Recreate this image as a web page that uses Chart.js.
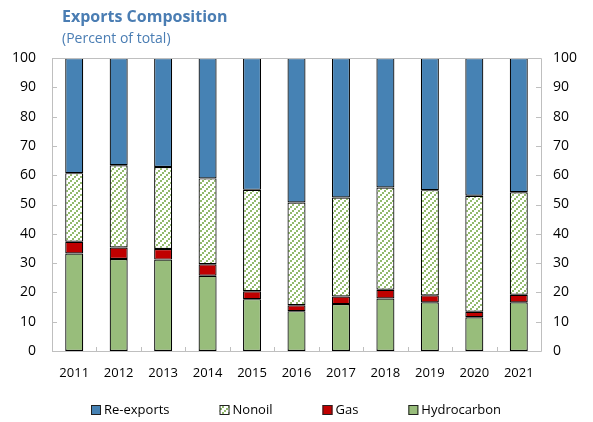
<!DOCTYPE html>
<html lang="en">
<head>
    <meta charset="UTF-8">
    <title>Exports Composition</title>
    <script src="https://cdn.jsdelivr.net/npm/chart.js"></script>
    <style>
        body {
            margin: 0;
            background: #fff;
            overflow: hidden;
        }

        .chart-box {
            position: relative;
            width: 593px;
            height: 422px;
        }

        .titulo {
            position: absolute;
            left: 62px;
            top: 5px;
            font-family: "Open Sans", "Noto Sans", sans-serif;
            font-weight: bold;
            font-size: 16px;
            color: #4a7db3;
        }

        .subtitulo {
            position: absolute;
            left: 62px;
            top: 28px;
            font-family: "Open Sans", "Noto Sans", sans-serif;
            font-size: 14px;
            color: #4a7db3;
        }
    </style>
</head>
<body>
    <div class="chart-box">
        <div class="titulo">Exports Composition</div>
        <div class="subtitulo">(Percent of total)</div>
        <canvas id="exportsChart"></canvas>
    </div>

    <script>
        // Dados (percentual do total)
        const anos = ['2011', '2012', '2013', '2014', '2015', '2016', '2017', '2018', '2019', '2020', '2021'];
        const hydrocarbon = [33.3, 31.4, 31.2, 25.7, 17.7, 13.6, 16.0, 17.9, 16.6, 11.5, 16.6];
        const gas = [4.0, 3.9, 3.6, 3.9, 2.7, 2.0, 2.6, 3.0, 2.4, 1.9, 2.6];
        const nonoil = [23.4, 28.1, 28.0, 29.3, 34.6, 35.1, 33.8, 34.9, 35.9, 39.6, 35.0];
        const reexports = [39.3, 36.6, 37.2, 41.1, 45.0, 49.3, 47.6, 44.2, 45.1, 47.0, 45.8];
        const yTicks = [0, 10, 20, 30, 40, 50, 60, 70, 80, 90, 100];

        const fonte = '"Open Sans", "Noto Sans", sans-serif';

        // Padrão hachurado (diagonal tracejada) para Nonoil
        function criarHachura() {
            const c = document.createElement('canvas');
            c.width = 6;
            c.height = 6;
            const g = c.getContext('2d');
            g.fillStyle = '#ffffff';
            g.fillRect(0, 0, 6, 6);
            g.fillStyle = '#92ba6d';
            g.fillRect(0, 4, 2, 2);
            g.fillRect(2, 2, 2, 2);
            g.fillRect(4, 0, 2, 2);
            return g.createPattern(c, 'repeat');
        }

        // Moldura e marcas de escala para dentro
        const moldura = {
            id: 'moldura',
            afterDatasetsDraw(chart) {
                const ctx = chart.ctx;
                const a = chart.chartArea;
                const y = chart.scales.y;
                const x = chart.scales.x;
                ctx.save();
                ctx.strokeStyle = '#bfbfbf';
                ctx.lineWidth = 1;
                ctx.beginPath();
                ctx.rect(Math.round(a.left) + 0.5, Math.round(a.top) + 0.5,
                    Math.round(a.right - a.left), Math.round(a.bottom - a.top));
                yTicks.forEach(v => {
                    const py = Math.round(y.getPixelForValue(v)) + 0.5;
                    ctx.moveTo(a.left, py);
                    ctx.lineTo(a.left + 5, py);
                    ctx.moveTo(a.right, py);
                    ctx.lineTo(a.right - 5, py);
                });
                const passo = x.getPixelForValue(1) - x.getPixelForValue(0);
                for (let i = 1; i < anos.length; i++) {
                    const px = Math.round(x.getPixelForValue(i) - passo / 2) + 0.5;
                    ctx.moveTo(px, a.bottom);
                    ctx.lineTo(px, a.bottom - 4);
                }
                ctx.stroke();
                ctx.restore();
            }
        };

        // Legenda desenhada no canvas, com espaçamento largo entre itens
        const legenda = {
            id: 'legenda',
            afterDraw(chart) {
                const ctx = chart.ctx;
                const a = chart.chartArea;
                const itens = chart.data.datasets.slice().reverse();
                const gap = 50;
                const caixa = 10;
                const espaco = 3;
                ctx.save();
                ctx.font = '13px ' + fonte;
                ctx.textBaseline = 'middle';
                ctx.fillStyle = '#000';
                const larguras = itens.map(d => caixa + espaco + ctx.measureText(d.label).width);
                const total = larguras.reduce((s, w) => s + w, 0) + gap * (itens.length - 1);
                let px = Math.round((a.left + a.right) / 2 - total / 2);
                const cy = 410;
                itens.forEach((d, i) => {
                    ctx.fillStyle = d.backgroundColor;
                    ctx.fillRect(px, cy - 5, caixa, caixa);
                    ctx.strokeStyle = '#222';
                    ctx.lineWidth = 1;
                    ctx.strokeRect(px + 0.5, cy - 4.5, caixa - 1, caixa - 1);
                    ctx.fillStyle = '#000';
                    ctx.fillText(d.label, px + caixa + espaco, cy + 0.5);
                    px += larguras[i] + gap;
                });
                ctx.restore();
            }
        };

        const ctx = document.getElementById('exportsChart').getContext('2d');
        const hachura = criarHachura();

        const base = {
            borderColor: '#000000',
            borderWidth: 1.2,
            borderSkipped: false,
            barPercentage: 0.405,
            categoryPercentage: 1.0
        };

        new Chart(ctx, {
            type: 'bar',
            data: {
                labels: anos,
                datasets: [
                    { ...base, label: 'Hydrocarbon', data: hydrocarbon, backgroundColor: '#98bd7b' },
                    { ...base, label: 'Gas', data: gas, backgroundColor: '#c00000' },
                    { ...base, label: 'Nonoil', data: nonoil, backgroundColor: hachura },
                    { ...base, label: 'Re-exports', data: reexports, backgroundColor: '#4682b4' }
                ]
            },
            options: {
                responsive: true,
                maintainAspectRatio: false,
                animation: false,
                layout: {
                    padding: { top: 58, left: 0, right: 0, bottom: 0 }
                },
                scales: {
                    x: {
                        stacked: true,
                        grid: { display: false, drawTicks: false },
                        border: { display: false },
                        ticks: {
                            color: '#000',
                            padding: 14,
                            font: { family: fonte, size: 13 }
                        },
                        afterFit(scale) { scale.height = 71; }
                    },
                    y: {
                        stacked: true,
                        min: 0,
                        max: 100,
                        position: 'left',
                        grid: { display: false, drawTicks: false },
                        border: { display: false },
                        ticks: {
                            stepSize: 10,
                            color: '#000',
                            padding: 16,
                            font: { family: fonte, size: 14 }
                        },
                        afterFit(scale) { scale.width = 52; }
                    },
                    y2: {
                        min: 0,
                        max: 100,
                        position: 'right',
                        grid: { display: false, drawTicks: false },
                        border: { display: false },
                        ticks: {
                            stepSize: 10,
                            color: '#000',
                            padding: 12,
                            font: { family: fonte, size: 14 }
                        },
                        afterFit(scale) { scale.width = 52; }
                    }
                },
                plugins: {
                    legend: { display: false },
                    tooltip: { enabled: false }
                }
            },
            plugins: [moldura, legenda]
        });
    </script>
</body>
</html>
